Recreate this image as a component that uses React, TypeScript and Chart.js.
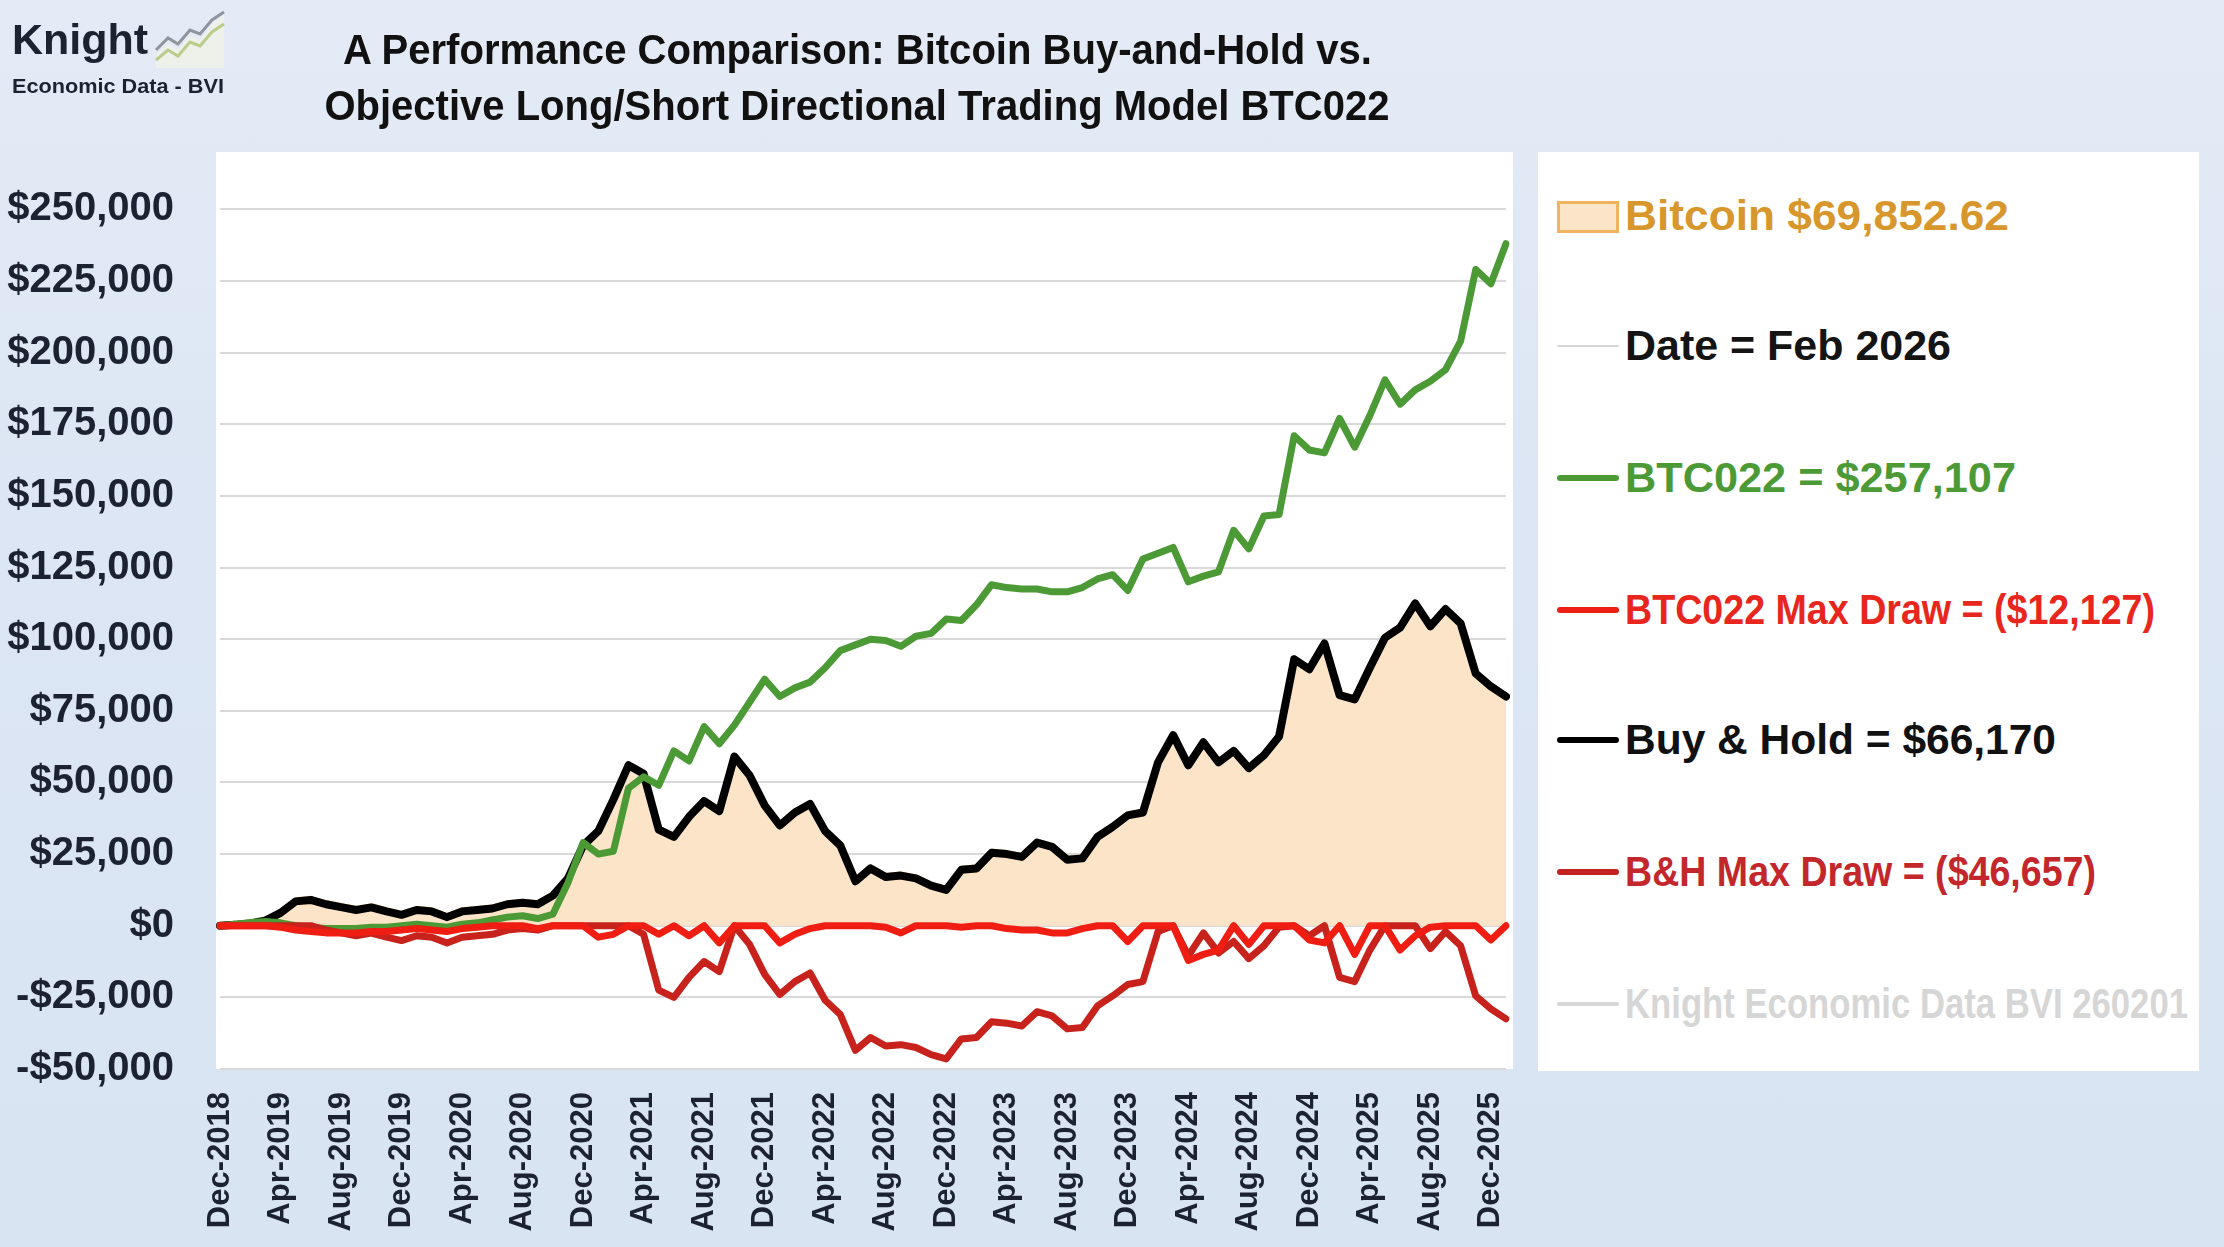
import React, { useEffect, useLayoutEffect, useRef } from "react";
import { Chart, registerables } from "chart.js";

Chart.register(...registerables);

// ---------------- data ----------------
const THOUSAND = 1000;

const months = [
  "Dec-2018",
  "Jan-2019", "Feb-2019", "Mar-2019", "Apr-2019", "May-2019", "Jun-2019", "Jul-2019", "Aug-2019", "Sep-2019", "Oct-2019", "Nov-2019", "Dec-2019",
  "Jan-2020", "Feb-2020", "Mar-2020", "Apr-2020", "May-2020", "Jun-2020", "Jul-2020", "Aug-2020", "Sep-2020", "Oct-2020", "Nov-2020", "Dec-2020",
  "Jan-2021", "Feb-2021", "Mar-2021", "Apr-2021", "May-2021", "Jun-2021", "Jul-2021", "Aug-2021", "Sep-2021", "Oct-2021", "Nov-2021", "Dec-2021",
  "Jan-2022", "Feb-2022", "Mar-2022", "Apr-2022", "May-2022", "Jun-2022", "Jul-2022", "Aug-2022", "Sep-2022", "Oct-2022", "Nov-2022", "Dec-2022",
  "Jan-2023", "Feb-2023", "Mar-2023", "Apr-2023", "May-2023", "Jun-2023", "Jul-2023", "Aug-2023", "Sep-2023", "Oct-2023", "Nov-2023", "Dec-2023",
  "Jan-2024", "Feb-2024", "Mar-2024", "Apr-2024", "May-2024", "Jun-2024", "Jul-2024", "Aug-2024", "Sep-2024", "Oct-2024", "Nov-2024", "Dec-2024",
  "Jan-2025", "Feb-2025", "Mar-2025", "Apr-2025", "May-2025", "Jun-2025", "Jul-2025", "Aug-2025", "Sep-2025", "Oct-2025", "Nov-2025", "Dec-2025",
  "Jan-2026",
];

// Bitcoin (area), thousands of $
const bitcoinK = [
  0.8,
  1.2, 1.7, 2.7, 5.4, 9.4, 9.9, 8.4, 7.4, 6.4, 7.3, 5.9, 4.7,
  6.4, 5.9, 3.9, 5.9, 6.4, 6.9, 8.4, 8.9, 8.4, 11.4, 17.4, 28.9,
  33.9, 44.9, 56.9, 53.9, 34.4, 31.9, 38.9, 44.4, 40.9, 59.9, 53.4, 42.9,
  35.9, 40.4, 43.4, 33.9, 28.9, 16.4, 20.9, 17.9, 18.4, 17.4, 14.9, 13.4,
  20.4, 20.9, 26.4, 25.9, 24.9, 29.9, 28.4, 23.9, 24.4, 31.9, 35.4, 39.4,
  40.4, 57.9, 67.4, 56.9, 64.9, 57.9, 61.9, 55.9, 60.4, 66.9, 93.9, 90.4,
  99.4, 81.4, 79.9, 90.9, 101.4, 104.9, 113.4, 105.4, 111.4, 106.4, 88.9, 84.4,
  80.9,
];

// BTC022 model equity, thousands of $
const btc022K = [
  0,
  0.5, 1.0, 1.5, 1.0, 0, -0.5, -1.0, -1.0, -1.0, -0.5, -0.5, 0,
  0.5, 0, -0.5, 0.5, 1.0, 2.0, 3.0, 3.5, 2.5, 4.0, 15.0, 29.0,
  25.0, 26.0, 48.0, 52.0, 49.0, 61.0, 57.5, 69.5, 63.5, 70.0, 78.0, 86.0,
  80.0, 83.0, 85.0, 90.0, 96.0, 98.0, 100.0, 99.5, 97.5, 101.0, 102.0, 107.0,
  106.5, 112.0, 119.0, 118.0, 117.5, 117.5, 116.5, 116.5, 118.0, 121.0, 122.5, 117.0,
  128.0, 130.0, 132.0, 120.0, 122.0, 123.5, 138.0, 131.5, 143.0, 143.5, 171.0, 166.0,
  165.0, 177.0, 167.0, 178.0, 190.5, 182.0, 187.0, 190.0, 194.0, 204.0, 229.0, 224.0,
  238.0,
];

// BTC022 drawdown, thousands of $
const btc022DrawK = [
  0,
  0, 0, 0, -0.5, -1.5, -2.0, -2.5, -2.5, -2.5, -2.0, -2.0, -1.5,
  -1.0, -1.5, -2.0, -1.0, -0.5, 0, 0, 0, -1.0, 0, 0, 0,
  -4.0, -3.0, 0, 0, -3.0, 0, -3.5, 0, -6.0, 0, 0, 0,
  -6.0, -3.0, -1.0, 0, 0, 0, 0, -0.5, -2.5, 0, 0, 0,
  -0.5, 0, 0, -1.0, -1.5, -1.5, -2.5, -2.5, -1.0, 0, 0, -5.5,
  0, 0, 0, -12.1, -10.0, -8.5, 0, -6.5, 0, 0, 0, -5.0,
  -6.0, 0, -10.0, 0, 0, -8.5, -3.5, -0.5, 0, 0, 0, -5.0,
  0,
];

// Buy & Hold equity, thousands of $
const buyHoldK = [
  0,
  0.3, 0.8, 1.8, 4.5, 8.5, 9.0, 7.5, 6.5, 5.5, 6.4, 5.0, 3.8,
  5.5, 5.0, 3.0, 5.0, 5.5, 6.0, 7.5, 8.0, 7.5, 10.5, 16.5, 28.0,
  33.0, 44.0, 56.0, 53.0, 33.5, 31.0, 38.0, 43.5, 40.0, 59.0, 52.5, 42.0,
  35.0, 39.5, 42.5, 33.0, 28.0, 15.5, 20.0, 17.0, 17.5, 16.5, 14.0, 12.5,
  19.5, 20.0, 25.5, 25.0, 24.0, 29.0, 27.5, 23.0, 23.5, 31.0, 34.5, 38.5,
  39.5, 57.0, 66.5, 56.0, 64.0, 57.0, 61.0, 55.0, 59.5, 66.0, 93.0, 89.5,
  98.5, 80.5, 79.0, 90.0, 100.5, 104.0, 112.5, 104.5, 110.5, 105.5, 88.0, 83.5,
  80.0,
];

// Buy & Hold drawdown, thousands of $
const bhDrawK = [
  0,
  0, 0, 0, 0, 0, 0, -1.5, -2.5, -3.5, -2.6, -4.0, -5.2,
  -3.5, -4.0, -6.0, -4.0, -3.5, -3.0, -1.5, -1.0, -1.5, 0, 0, 0,
  0, 0, 0, -3.0, -22.5, -25.0, -18.0, -12.5, -16.0, 0, -6.5, -17.0,
  -24.0, -19.5, -16.5, -26.0, -31.0, -43.5, -39.0, -42.0, -41.5, -42.5, -45.0, -46.5,
  -39.5, -39.0, -33.5, -34.0, -35.0, -30.0, -31.5, -36.0, -35.5, -28.0, -24.5, -20.5,
  -19.5, -2.0, 0, -10.5, -2.5, -9.5, -5.5, -11.5, -7.0, -0.5, 0, -3.5,
  0, -18.0, -19.5, -8.5, 0, 0, 0, -8.0, -2.0, -7.0, -24.5, -29.0,
  -32.5,
];

const Y_MIN = -50000;
const Y_MAX = 270000;
const Y_TICK_TOP = 250000;
const Y_STEP = 25000;
const LABEL_EVERY = 4;

const titleLines = [
  "A Performance Comparison: Bitcoin Buy-and-Hold vs.",
  "Objective Long/Short Directional Trading Model BTC022",
];

const legendItems = [
  { text: "Bitcoin $69,852.62", textColor: "#D8972C", kind: "box", fitWidth: 384 },
  { text: "Date = Feb 2026", textColor: "#141414", kind: "line", lineColor: "#D6D6D6", lineWidth: 2, fitWidth: 326 },
  { text: "BTC022 = $257,107", textColor: "#4C9A36", kind: "line", lineColor: "#4C9A36", lineWidth: 6, fitWidth: 391 },
  { text: "BTC022 Max Draw = ($12,127)", textColor: "#E8261D", kind: "line", lineColor: "#EE1F14", lineWidth: 6, fitWidth: 530 },
  { text: "Buy & Hold = $66,170", textColor: "#111111", kind: "line", lineColor: "#000000", lineWidth: 6, fitWidth: 431 },
  { text: "B&H Max Draw = ($46,657)", textColor: "#C3272C", kind: "line", lineColor: "#C4221F", lineWidth: 6, fitWidth: 471 },
  { text: "Knight Economic Data BVI 260201", textColor: "#D6D6D6", kind: "line", lineColor: "#D6D6D6", lineWidth: 4, fitWidth: 563 },
];

// ---------------- helpers ----------------
const fmtMoney = (v: number) =>
  (v < 0 ? "-$" : "$") + Math.abs(v).toLocaleString("en-US");

const toDollars = (arr: number[]) => arr.map((v) => v * THOUSAND);

function FitText({
  text,
  width,
  origin,
  style,
}: {
  text: string;
  width: number;
  origin: string;
  style: React.CSSProperties;
}) {
  const ref = useRef<HTMLSpanElement | null>(null);
  useLayoutEffect(() => {
    const el = ref.current;
    if (!el) return;
    el.style.transform = "none";
    const w = el.getBoundingClientRect().width;
    if (w > 0) el.style.transform = `scaleX(${width / w})`;
  }, [text, width]);
  return (
    <span
      ref={ref}
      style={{ display: "inline-block", whiteSpace: "nowrap", transformOrigin: origin, ...style }}
    >
      {text}
    </span>
  );
}

const plotBackground = {
  id: "plotBackground",
  beforeDraw(chart: any) {
    const { ctx, chartArea: a } = chart;
    if (!a) return;
    ctx.save();
    ctx.fillStyle = "#FFFFFF";
    ctx.fillRect(a.left - 4, a.top, a.right - a.left + 11, a.bottom - a.top);
    ctx.restore();
  },
};

function PerformanceChart() {
  const canvasRef = useRef<HTMLCanvasElement | null>(null);

  useEffect(() => {
    if (!canvasRef.current) return;
    const tickColor = "#1C2232";
    const chart = new Chart(canvasRef.current, {
      type: "line",
      data: {
        labels: months,
        datasets: [
          {
            label: "BTC022 Max Draw",
            data: toDollars(btc022DrawK),
            borderColor: "#F01E12",
            borderWidth: 7,
            pointRadius: 0,
            tension: 0,
            fill: false,
            order: 0,
          },
          {
            label: "B&H Max Draw",
            data: toDollars(bhDrawK),
            borderColor: "#C8221C",
            borderWidth: 7,
            pointRadius: 0,
            tension: 0,
            fill: false,
            order: 1,
          },
          {
            label: "BTC022",
            data: toDollars(btc022K),
            borderColor: "#4C9A36",
            borderWidth: 7,
            pointRadius: 0,
            tension: 0,
            fill: false,
            order: 2,
          },
          {
            label: "Buy & Hold",
            data: toDollars(buyHoldK),
            borderColor: "#000000",
            borderWidth: 8,
            pointRadius: 0,
            tension: 0,
            fill: false,
            order: 3,
          },
          {
            label: "Bitcoin",
            data: toDollars(bitcoinK),
            borderColor: "#F5C07C",
            backgroundColor: "#FCE4C8",
            borderWidth: 3,
            pointRadius: 0,
            tension: 0,
            fill: "origin",
            order: 4,
          },
        ] as any,
      },
      options: {
        animation: false,
        responsive: true,
        maintainAspectRatio: false,
        devicePixelRatio: 1,
        layout: { padding: { top: 152, right: 24, bottom: 0, left: 0 } },
        plugins: {
          legend: { display: false },
          title: { display: false },
          tooltip: { enabled: false },
        },
        elements: { line: { borderJoinStyle: "round", borderCapStyle: "round" } },
        scales: {
          x: {
            type: "category",
            offset: false,
            grid: { display: false, drawTicks: false },
            border: { display: false },
            afterFit: (scale: any) => {
              scale.height = 178;
              scale.paddingLeft = 0;
              scale.paddingRight = 0;
            },
            ticks: {
              autoSkip: false,
              minRotation: 90,
              maxRotation: 90,
              padding: 23,
              color: tickColor,
              font: { family: "'Liberation Sans', Arial, sans-serif", weight: "bold", size: 31 },
              callback: function (this: any, value: any, index: number) {
                return index % LABEL_EVERY === 0 ? months[index] : "";
              },
            },
          },
          y: {
            type: "linear",
            min: Y_MIN,
            max: Y_MAX,
            grid: { color: "#D9D9D9", lineWidth: 2, drawTicks: false },
            border: { display: false },
            afterBuildTicks: (scale: any) => {
              const ticks = [];
              for (let v = Y_MIN; v <= Y_TICK_TOP; v += Y_STEP) ticks.push({ value: v });
              scale.ticks = ticks;
            },
            afterFit: (scale: any) => {
              scale.width = 220;
              scale.paddingTop = 0;
              scale.paddingBottom = 0;
            },
            ticks: {
              padding: 46,
              color: tickColor,
              font: { family: "'Liberation Sans', Arial, sans-serif", weight: "bold", size: 40 },
              callback: (v: any) => fmtMoney(Number(v)),
            },
          },
        },
      } as any,
      plugins: [plotBackground],
    });
    return () => chart.destroy();
  }, []);

  return (
    <div style={{ position: "absolute", left: 0, top: 0, width: 1530, height: 1247 }}>
      <canvas ref={canvasRef} />
    </div>
  );
}

function Legend() {
  const left = 1538;
  const top = 152;
  const centers = [216, 346, 478, 610, 740, 872, 1004];
  return (
    <div
      style={{
        position: "absolute",
        left,
        top,
        width: 661,
        height: 919,
        background: "#FFFFFF",
      }}
    >
      {legendItems.map((item, i) => (
        <div
          key={item.text}
          style={{
            position: "absolute",
            left: 0,
            top: centers[i] - top,
            width: 661,
            height: 0,
          }}
        >
          {item.kind === "box" ? (
            <div
              style={{
                position: "absolute",
                left: 19,
                top: -15,
                width: 56,
                height: 26,
                background: "#FCE4C8",
                border: "3px solid #F0B45E",
              }}
            />
          ) : (
            <div
              style={{
                position: "absolute",
                left: 19,
                top: -(item.lineWidth as number) / 2,
                width: 62,
                height: item.lineWidth,
                background: item.lineColor,
                borderRadius: 3,
              }}
            />
          )}
          <div
            style={{
              position: "absolute",
              left: 87,
              top: -26,
              lineHeight: "52px",
              whiteSpace: "nowrap",
            }}
          >
            <FitText
              text={item.text}
              width={item.fitWidth}
              origin="left center"
              style={{
                fontFamily: "'Liberation Sans', Arial, sans-serif",
                fontWeight: 700,
                fontSize: 42,
                color: item.textColor,
              }}
            />
          </div>
        </div>
      ))}
    </div>
  );
}

function Logo() {
  return (
    <div style={{ position: "absolute", left: 0, top: 0, width: 240, height: 110 }}>
      <div
        style={{
          position: "absolute",
          left: 12,
          top: 14,
          fontFamily: "'Liberation Sans', Arial, sans-serif",
          fontWeight: 700,
          fontSize: 43,
          lineHeight: "50px",
          color: "#1D2231",
        }}
      >
        Knight
      </div>
      <svg
        style={{ position: "absolute", left: 152, top: 10 }}
        width={76}
        height={58}
        viewBox="0 0 76 58"
      >
        <polygon points="4,44 16,34 26,40 38,26 48,30 60,14 72,4 72,58 4,58" fill="#EEF1EA" />
        <polyline points="4,40 16,28 26,34 38,20 48,24 60,10 72,2" fill="none" stroke="#8E959E" strokeWidth={3} />
        <polyline points="4,50 16,40 26,46 38,32 48,36 60,22 72,14" fill="none" stroke="#B9CC8A" strokeWidth={3} />
      </svg>
      <div
        style={{
          position: "absolute",
          left: 12,
          top: 74,
          lineHeight: "24px",
          whiteSpace: "nowrap",
        }}
      >
        <FitText
          text="Economic Data - BVI"
          width={212}
          origin="left center"
          style={{
            fontFamily: "'Liberation Sans', Arial, sans-serif",
            fontWeight: 700,
            fontSize: 21,
            color: "#1D2231",
          }}
        />
      </div>
    </div>
  );
}

function Title() {
  const widths = [1029, 1065];
  const centersY = [50, 106];
  return (
    <>
      {titleLines.map((line, i) => (
        <div
          key={line}
          style={{
            position: "absolute",
            left: 857 - 700,
            width: 1400,
            top: centersY[i] - 28,
            height: 56,
            lineHeight: "56px",
            textAlign: "center",
          }}
        >
          <FitText
            text={line}
            width={widths[i]}
            origin="center center"
            style={{
              fontFamily: "'Liberation Sans', Arial, sans-serif",
              fontWeight: 700,
              fontSize: 42,
              color: "#111111",
            }}
          />
        </div>
      ))}
    </>
  );
}

export default function App() {
  return (
    <div
      style={{
        position: "fixed",
        left: 0,
        top: 0,
        width: 2224,
        height: 1247,
        overflow: "hidden",
        background: "linear-gradient(180deg, #E4EBF6 0%, #DCE6F4 40%, #D9E4F3 100%)",
      }}
    >
      <PerformanceChart />
      <Legend />
      <Logo />
      <Title />
    </div>
  );
}
